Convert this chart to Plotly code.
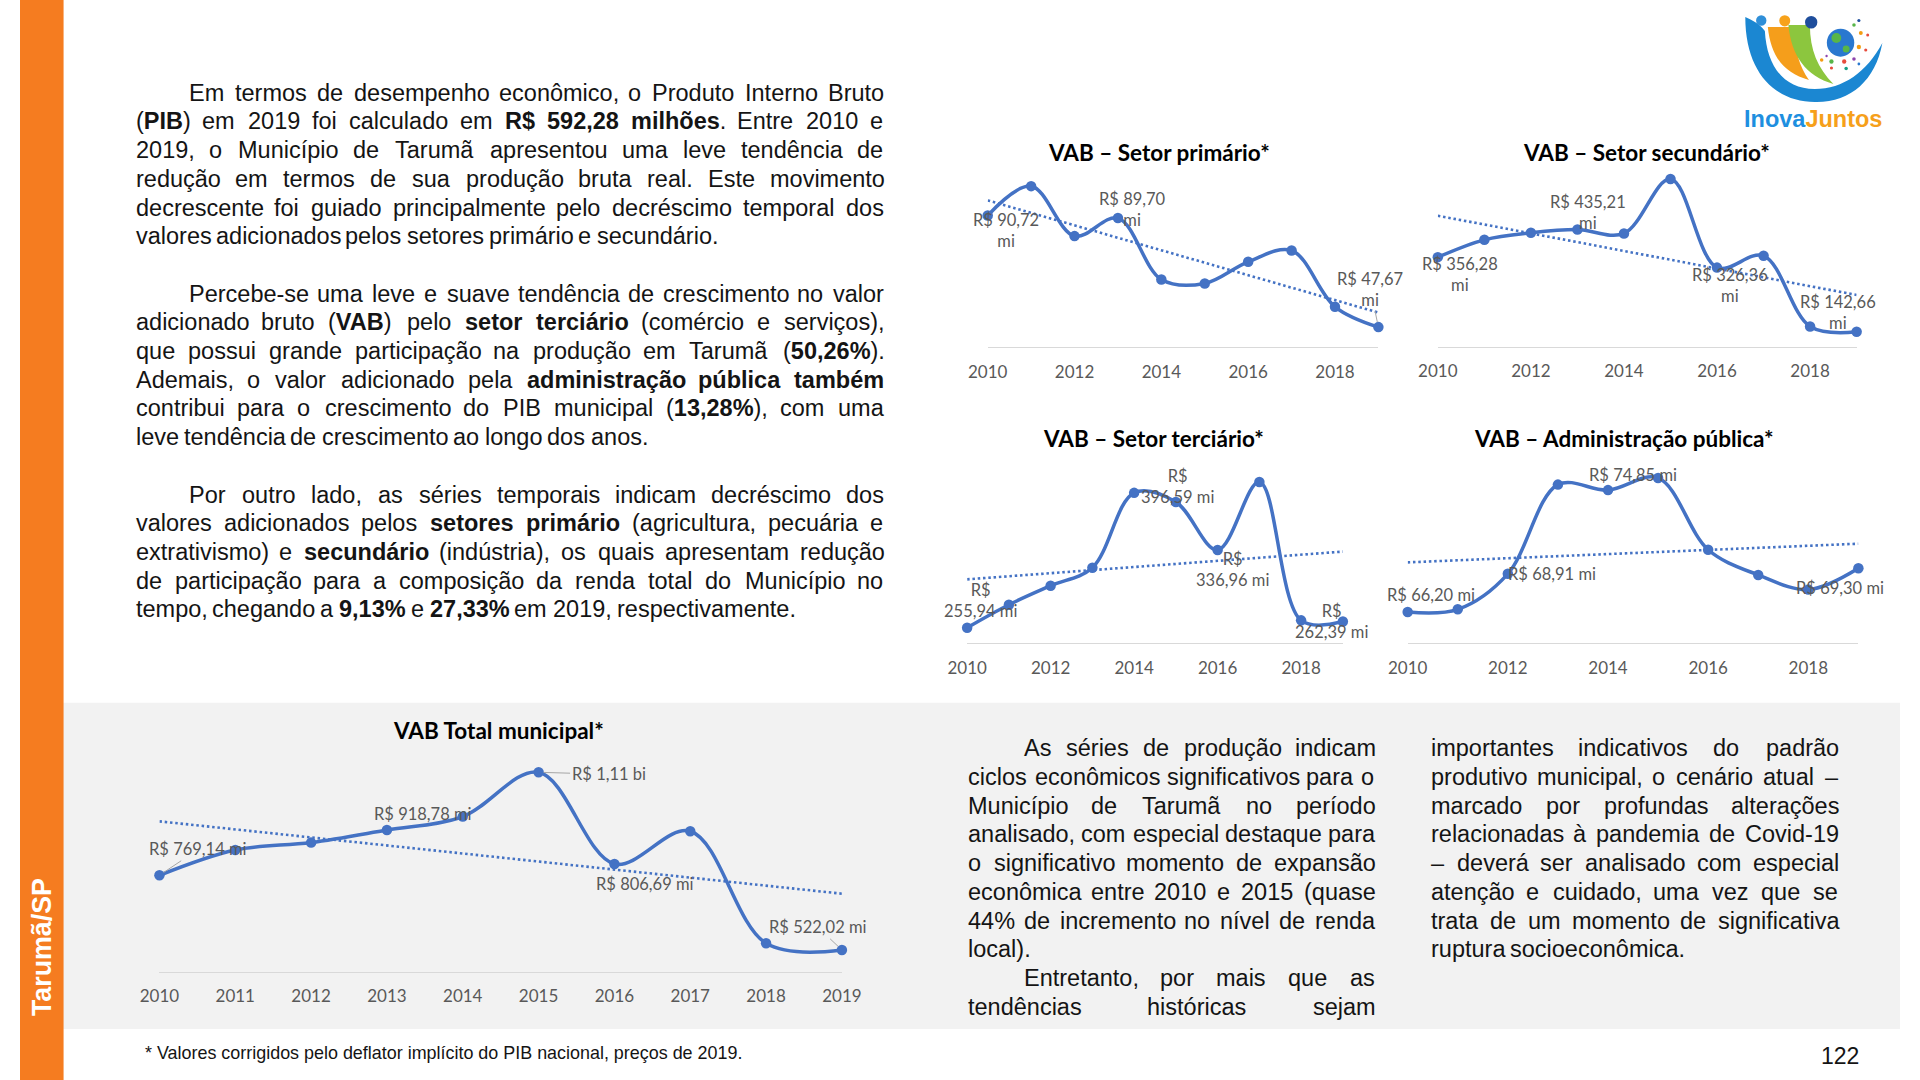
import numpy as np
import plotly.graph_objects as go

W, H = 1920, 1080

# ---------------- data ----------------
years = [2010, 2011, 2012, 2013, 2014, 2015, 2016, 2017, 2018, 2019]
vab_primario = [90.72, 102.0, 82.75, 89.70, 66.0, 64.5, 72.85, 77.2, 55.5, 47.67]
vab_secundario = [356.28, 405.9, 425.9, 435.21, 424.0, 580.0, 326.36, 360.1, 157.9, 142.66]
vab_terciario = [255.94, 279.9, 299.75, 318.5, 396.59, 387.0, 336.96, 407.9, 263.6, 262.39]
vab_adm_publica = [66.20, 66.39, 68.91, 75.24, 74.85, 75.71, 70.62, 68.83, 67.79, 69.30]
vab_total = [769.14, 853.0, 877.3, 918.78, 963.3, 1110.0, 806.69, 914.8, 544.0, 522.02]
ticks_small = [2010, 2012, 2014, 2016, 2018]
ticks_total = years

BLUE = "#4472C4"
LBL = "#595959"
CHART_FONT = "Lato, Liberation Sans, sans-serif"
BODY_FONT = "Liberation Sans, Arial, sans-serif"


def fx(x):
    return x / W


def fy(y):
    return 1 - y / H


def fmt_num(v):
    return f"{v:.2f}".replace(".", ",")


def label_text(v, style):
    if style == "wrap_mi":
        return f"R$ {fmt_num(v)}<br>mi"
    if style == "wrap_rs":
        return f"R$<br>{fmt_num(v)} mi"
    if style == "bi":
        return f"R$ {fmt_num(v / 1000)} bi"
    return f"R$ {fmt_num(v)} mi"


charts = [
    dict(vals=vab_primario, title="VAB – Setor primário*", xpx=(988.3, 1387.3), ypx=(165.4, 347.0),
         yr=(40, 110), ticks=ticks_small, tpos=(1163, 153),
         labels=[(0, "wrap_mi", 18, 15, False), (3, "wrap_mi", 15, -9, False), (9, "wrap_mi", -8, -38, True)]),
    dict(vals=vab_secundario, title="VAB – Setor secundário*", xpx=(1448.0, 1875.7), ypx=(172.0, 346.7),
         yr=(100, 600), ticks=ticks_small, tpos=(1661, 153),
         labels=[(0, "wrap_mi", 22, 17, False), (3, "wrap_mi", 11, -17, False), (6, "wrap_mi", 13, 18, False),
                 (9, "wrap_mi", -19, -19.5, False)]),
    dict(vals=vab_terciario, title="VAB – Setor terciário*", xpx=(967.3, 1351.0), ypx=(470.4, 643.0),
         yr=(240, 420), ticks=ticks_small, tpos=(1158, 438),
         labels=[(0, "wrap_rs", 13, -27, False), (4, "wrap_rs", 43, -6, False), (6, "wrap_rs", 15, 19, False),
                 (9, "wrap_rs", -11, 0, False)]),
    dict(vals=vab_adm_publica, title="VAB – Administração pública*", xpx=(1417.2, 1877.5), ypx=(459.8, 643.0),
         yr=(64, 77), ticks=ticks_small, tpos=(1638, 438),
         labels=[(0, "one", 23, -17, False), (2, "one", 44.5, 0, False), (4, "one", 25, -15, False),
                 (9, "one", -18.5, 19.7, False)]),
    dict(vals=vab_total, title="VAB Total municipal*", xpx=(142.4, 839.4), ypx=(760.2, 971.7),
         yr=(450, 1150), ticks=ticks_total, tpos=(489, 730),
         labels=[(0, "one", 39, -26, True), (3, "one", 36, -16, False), (5, "bi", 70, 2, True),
                 (6, "one", 30.5, 20, False), (9, "one", -24, -22.6, True)]),
]

fig = go.Figure()
annotations = []
shapes = []
layout_axes = {}

for i, c in enumerate(charts, start=1):
    xa = "x" if i == 1 else f"x{i}"
    ya = "y" if i == 1 else f"y{i}"
    slope, icpt = np.polyfit(years, c["vals"], 1)
    trend = [slope * yy + icpt for yy in years]
    fig.add_trace(go.Scatter(x=years, y=trend, mode="lines", xaxis=xa, yaxis=ya,
                             line=dict(color=BLUE, width=2.6, dash="2.5px,2.8px"),
                             showlegend=False, hoverinfo="skip", cliponaxis=False))
    fig.add_trace(go.Scatter(x=years, y=c["vals"], mode="lines+markers", xaxis=xa, yaxis=ya,
                             line=dict(color=BLUE, width=3.5, shape="spline", smoothing=1.0),
                             marker=dict(size=10.5, color=BLUE),
                             showlegend=False, hoverinfo="skip", cliponaxis=False))
    xkey = "xaxis" if i == 1 else f"xaxis{i}"
    ykey = "yaxis" if i == 1 else f"yaxis{i}"
    layout_axes[xkey] = dict(domain=[fx(c["xpx"][0]), fx(c["xpx"][1])], range=[2010, 2019],
                             anchor=ya, showgrid=False, zeroline=False, showline=True,
                             linecolor="#d9d9d9", linewidth=1.4, ticks="",
                             tickmode="array", tickvals=c["ticks"], ticktext=[str(t) for t in c["ticks"]],
                             tickfont=dict(family=CHART_FONT, size=17, color=LBL),
                             ticklabelstandoff=9, fixedrange=True)
    layout_axes[ykey] = dict(domain=[fy(c["ypx"][1]), fy(c["ypx"][0])], range=list(c["yr"]),
                             anchor=xa, visible=False, showgrid=False, zeroline=False, fixedrange=True)
    annotations.append(dict(xref="paper", yref="paper", x=fx(c["tpos"][0]), y=fy(c["tpos"][1]),
                            text=f"<b>{c['title']}</b>", showarrow=False, xanchor="center", yanchor="middle",
                            font=dict(family=CHART_FONT, size=22.5, color="#000000")))
    for idx, style, dx, dy, arrow in c["labels"]:
        a = dict(xref=xa, yref=ya, x=years[idx], y=c["vals"][idx], text=label_text(c["vals"][idx], style),
                 font=dict(family=CHART_FONT, size=16.5, color=LBL), align="center")
        if arrow:
            a.update(showarrow=True, arrowhead=0, arrowwidth=1, arrowcolor="#a6a6a6",
                     ax=dx, ay=dy, axref="pixel", ayref="pixel", standoff=5)
        else:
            a.update(showarrow=False, xshift=dx, yshift=-dy, xanchor="center", yanchor="middle")
        annotations.append(a)

# ---------------- justified body text ----------------
REG = {' ': 278, '!': 278, '$': 556, '%': 889, '(': 333, ')': 333, '*': 389, ',': 278, '-': 333,
       '.': 278, '/': 278, ':': 278, ';': 278, '–': 556,
       'A': 667, 'B': 667, 'C': 722, 'D': 722, 'E': 667, 'F': 611, 'G': 778, 'H': 722, 'I': 278,
       'J': 500, 'K': 667, 'L': 556, 'M': 833, 'N': 722, 'O': 778, 'P': 667, 'Q': 778, 'R': 722,
       'S': 667, 'T': 611, 'U': 722, 'V': 667, 'W': 944, 'X': 667, 'Y': 667, 'Z': 611,
       'a': 556, 'b': 556, 'c': 500, 'd': 556, 'e': 556, 'f': 278, 'g': 556, 'h': 556, 'i': 222,
       'j': 222, 'k': 500, 'l': 222, 'm': 833, 'n': 556, 'o': 556, 'p': 556, 'q': 556, 'r': 333,
       's': 500, 't': 278, 'u': 556, 'v': 500, 'w': 722, 'x': 500, 'y': 500, 'z': 500}
BOLD = {' ': 278, '$': 556, '%': 889, '(': 333, ')': 333, ',': 278, '.': 278, '-': 333, '/': 278,
        'A': 722, 'B': 722, 'C': 722, 'D': 722, 'E': 667, 'F': 611, 'G': 778, 'H': 722, 'I': 278,
        'L': 611, 'M': 833, 'N': 722, 'O': 778, 'P': 667, 'R': 722, 'S': 667, 'T': 611, 'U': 722,
        'V': 667, 'J': 556,
        'a': 556, 'b': 611, 'c': 556, 'd': 611, 'e': 556, 'f': 333, 'g': 611, 'h': 611, 'i': 278,
        'j': 278, 'k': 556, 'l': 278, 'm': 889, 'n': 611, 'o': 611, 'p': 611, 'q': 611, 'r': 389,
        's': 556, 't': 333, 'u': 611, 'v': 556, 'w': 778, 'x': 556, 'y': 556, 'z': 500}
BASE = {'á': 'a', 'à': 'a', 'â': 'a', 'ã': 'a', 'é': 'e', 'ê': 'e', 'ó': 'o', 'ô': 'o', 'õ': 'o',
        'ú': 'u', 'ç': 'c', 'É': 'E', 'Ç': 'C'}


def char_w(ch, bold):
    if ch in 'íÍ':
        return 278
    if ch.isdigit():
        return 556
    ch = BASE.get(ch, ch)
    tab = BOLD if bold else REG
    return tab.get(ch, 556)


def parse_words(line):
    words, cur, bold, i = [], [], False, 0
    while i < len(line):
        if line.startswith("<b>", i):
            bold = True
            i += 3
            continue
        if line.startswith("</b>", i):
            bold = False
            i += 4
            continue
        ch = line[i]
        if ch == " ":
            if cur:
                words.append(cur)
                cur = []
        else:
            cur.append((ch, bold))
        i += 1
    if cur:
        words.append(cur)
    return words


def markup(word):
    out, run, rb = "", "", None
    for ch, b in word:
        if rb is None or b == rb:
            run += ch
            rb = b
        else:
            out += f"<b>{run}</b>" if rb else run
            run, rb = ch, b
    out += f"<b>{run}</b>" if rb else run
    return out


def text_width(s, size, bold=False):
    return sum(char_w(ch, bold) for ch in s) * size / 1000


def place_block(lines, left, right, indent, y0, pitch, size):
    for n, (txt, ind, last) in enumerate(lines):
        if txt is None:
            continue
        y = y0 + pitch * n
        words = parse_words(txt)
        widths = [sum(char_w(ch, b) for ch, b in w) * size / 1000 for w in words]
        x = indent if ind else left
        if not last and len(words) > 1:
            gap = (right - x - sum(widths)) / (len(words) - 1)
        else:
            gap = char_w(" ", False) * size / 1000
        for w, wd in zip(words, widths):
            annotations.append(dict(xref="paper", yref="paper", x=fx(x), y=fy(y), text=markup(w),
                                    showarrow=False, xanchor="left", yanchor="middle", borderpad=0,
                                    font=dict(family=BODY_FONT, size=size, color="#141414")))
            x += wd + gap


top_lines = [
    ("Em termos de desempenho econômico, o Produto Interno Bruto", True, False),
    ("(<b>PIB</b>) em 2019 foi calculado em <b>R$ 592,28 milhões</b>. Entre 2010 e", False, False),
    ("2019, o Município de Tarumã apresentou uma leve tendência de", False, False),
    ("redução em termos de sua produção bruta real. Este movimento", False, False),
    ("decrescente foi guiado principalmente pelo decréscimo temporal dos", False, False),
    ("valores adicionados pelos setores primário e secundário.", False, True),
    (None, False, False),
    ("Percebe-se uma leve e suave tendência de crescimento no valor", True, False),
    ("adicionado bruto (<b>VAB</b>) pelo <b>setor terciário</b> (comércio e serviços),", False, False),
    ("que possui grande participação na produção em Tarumã (<b>50,26%</b>).", False, False),
    ("Ademais, o valor adicionado pela <b>administração pública também</b>", False, False),
    ("contribui para o crescimento do PIB municipal (<b>13,28%</b>), com uma", False, False),
    ("leve tendência de crescimento ao longo dos anos.", False, True),
    (None, False, False),
    ("Por outro lado, as séries temporais indicam decréscimo dos", True, False),
    ("valores adicionados pelos <b>setores primário</b> (agricultura, pecuária e", False, False),
    ("extrativismo) e <b>secundário</b> (indústria), os quais apresentam redução", False, False),
    ("de participação para a composição da renda total do Município no", False, False),
    ("tempo, chegando a <b>9,13%</b> e <b>27,33%</b> em 2019, respectivamente.", False, True),
]
mid_lines = [
    ("As séries de produção indicam", True, False),
    ("ciclos econômicos significativos para o", False, False),
    ("Município de Tarumã no período", False, False),
    ("analisado, com especial destaque para", False, False),
    ("o significativo momento de expansão", False, False),
    ("econômica entre 2010 e 2015 (quase", False, False),
    ("44% de incremento no nível de renda", False, False),
    ("local).", False, True),
    ("Entretanto, por mais que as", True, False),
    ("tendências históricas sejam", False, False),
]
right_lines = [
    ("importantes indicativos do padrão", False, False),
    ("produtivo municipal, o cenário atual –", False, False),
    ("marcado por profundas alterações", False, False),
    ("relacionadas à pandemia de Covid-19", False, False),
    ("– deverá ser analisado com especial", False, False),
    ("atenção e cuidado, uma vez que se", False, False),
    ("trata de um momento de significativa", False, False),
    ("ruptura socioeconômica.", False, True),
]

place_block(top_lines, 117, 880, 172, 92.7, 28.7, 23.5)
place_block(mid_lines, 967, 1382, 1024, 748.3, 28.7, 23.5)
place_block(right_lines, 1440, 1855, 1440, 748.3, 28.7, 23.5)

# footnote, side label, page number
foot = "* Valores corrigidos pelo deflator implícito do PIB nacional, preços de 2019."
foot_size = 599 / (text_width(foot, 1000) / 1000)
annotations.append(dict(xref="paper", yref="paper", x=fx(127), y=fy(1053), text=foot, showarrow=False,
                        xanchor="left", yanchor="middle", borderpad=0,
                        font=dict(family=BODY_FONT, size=foot_size, color="#141414")))
side = "Tarumã/SP"
side_size = 140 / (text_width(side, 1000, bold=True) / 1000)
annotations.append(dict(xref="paper", yref="paper", x=fx(22.5), y=fy(947), text=f"<b>{side}</b>",
                        showarrow=False, textangle=-90, xanchor="center", yanchor="middle",
                        font=dict(family=BODY_FONT, size=side_size, color="#ffffff")))
annotations.append(dict(xref="paper", yref="paper", x=fx(1879), y=fy(1056), text="122", showarrow=False,
                        xanchor="right", yanchor="middle", borderpad=0,
                        font=dict(family=BODY_FONT, size=23, color="#141414")))

# ---------------- background blocks ----------------
shapes.append(dict(type="rect", xref="paper", yref="paper", x0=fx(44), x1=1, y0=fy(1029), y1=fy(702.7),
                   fillcolor="#f2f2f2", line=dict(width=0), layer="below"))
shapes.append(dict(type="rect", xref="paper", yref="paper", x0=0, x1=fx(44.5), y0=0, y1=1,
                   fillcolor="#F57C20", line=dict(width=0), layer="below"))


# ---------------- logo ----------------
def ppath(s):
    out, xy = [], 0
    for tok in s.split():
        try:
            v = float(tok)
        except ValueError:
            out.append(tok)
            continue
        out.append(f"{fx(v):.5f}" if xy == 0 else f"{fy(v):.5f}")
        xy = 1 - xy
    return " ".join(out)


def logo_path(s, color):
    shapes.append(dict(type="path", xref="paper", yref="paper", path=ppath(s), fillcolor=color,
                       line=dict(width=0), layer="above"))


def logo_dot(cx, cy, r, color):
    shapes.append(dict(type="circle", xref="paper", yref="paper", x0=fx(cx - r), x1=fx(cx + r),
                       y0=fy(cy + r), y1=fy(cy - r), fillcolor=color, line=dict(width=0), layer="above"))


logo_path("M 1762 17 C 1762 75 1795 103 1835 102 C 1870 102 1895 80 1902 43 "
          "C 1886 72 1862 89 1833 89 C 1801 89 1784 66 1782 31 C 1777 24 1769 20 1762 17 Z", "#1b87d2")
logo_path("M 1785 27 C 1788 56 1801 73 1827 80 C 1816 65 1812 47 1813 27 Z", "#f59e1b")
logo_path("M 1806 25 C 1809 56 1824 76 1852 84 C 1836 68 1828 50 1828 25 Z", "#8cc63e")
logo_dot(1778.3, 20.5, 5.3, "#2f8fd8")
logo_dot(1802.3, 20.8, 5.6, "#f7a21b")
logo_dot(1829.3, 22.3, 6.3, "#1f4e9c")
logo_dot(1859.3, 42.7, 14, "#2a78cf")
logo_dot(1855, 38, 5, "#58b548")
logo_dot(1865, 49, 3.5, "#58b548")
for cx, cy, r, col in [(1873, 25, 1.8, "#58b548"), (1878, 20.5, 1.6, "#1f4e9c"), (1880, 33, 2.0, "#f39c12"),
                       (1887, 35, 1.5, "#e74c3c"), (1878, 47, 2.2, "#f39c12"), (1885, 50, 1.6, "#e74c3c"),
                       (1840, 60, 1.8, "#f39c12"), (1850, 61.5, 2.2, "#58b548"), (1863, 61.5, 2.2, "#e74c3c"),
                       (1873, 59, 1.8, "#8e44ad"), (1878, 64, 1.4, "#2a78cf"), (1850, 68, 1.6, "#e74c3c"),
                       (1865, 68.5, 1.8, "#16a085"), (1845, 56, 1.2, "#8e44ad")]:
    logo_dot(cx, cy, r, col)
annotations.append(dict(xref="paper", yref="paper", x=fx(1831), y=fy(119),
                        text="<b><span style='color:#1e8fe0'>Inova</span><span style='color:#f6a01a'>Juntos</span></b>",
                        showarrow=False, xanchor="center", yanchor="middle",
                        font=dict(family=BODY_FONT, size=23.5)))

fig.update_layout(width=W, height=H, margin=dict(l=0, r=0, t=0, b=0), paper_bgcolor="#ffffff",
                  plot_bgcolor="rgba(0,0,0,0)", showlegend=False, annotations=annotations, shapes=shapes,
                  **layout_axes)
fig.write_html("out.html", config={"displayModeBar": False},
               post_script="document.body.style.margin='0';document.body.style.overflow='hidden';")
